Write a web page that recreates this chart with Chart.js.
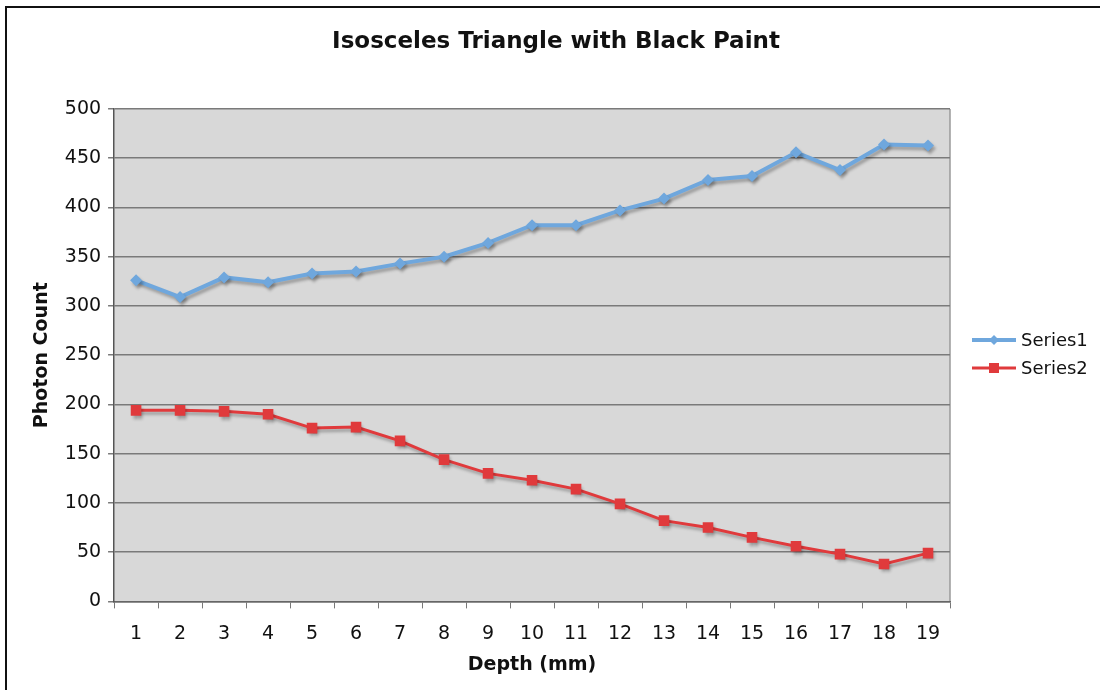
<!DOCTYPE html>
<html lang="en">
<head>
    <meta charset="UTF-8">
    <title>Isosceles Triangle with Black Paint</title>
    <script src="https://cdn.jsdelivr.net/npm/chart.js"></script>
    <style>
        body { margin: 0; background: #fff; }
        #wrap { position: relative; width: 1100px; height: 690px; }
        #frameTop { position: absolute; left: 5px; top: 6px; width: 1095px; height: 2px; background: #111; }
        #frameLeft { position: absolute; left: 5px; top: 6px; width: 2px; height: 684px; background: #111; }
    </style>
</head>
<body>
    <div id="wrap">
        <canvas id="photonChart" width="1100" height="690"></canvas>
        <div id="frameTop"></div>
        <div id="frameLeft"></div>
    </div>

    <script>
        // depth in mm
        const depths = ['1','2','3','4','5','6','7','8','9','10','11','12','13','14','15','16','17','18','19'];
        const series1 = [326, 309, 329, 324, 333, 335, 343, 350, 364, 382, 382, 397, 409, 428, 432, 456, 438, 464, 463];
        const series2 = [194, 194, 193, 190, 176, 177, 163, 144, 130, 123, 114, 99, 82, 75, 65, 56, 48, 38, 49];
        const yMin = 0, yMax = 500, yStep = 50;
        const chartTitle = 'Isosceles Triangle with Black Paint';

        const font = 'DejaVu Sans';

        // grey plot area + right edge
        const plotBg = {
            id: 'plotBg',
            beforeDraw(chart) {
                const { ctx, chartArea: a } = chart;
                ctx.save();
                ctx.fillStyle = '#d8d8d8';
                ctx.fillRect(a.left, a.top, a.right - a.left, a.bottom - a.top);
                ctx.strokeStyle = '#9a9a9a';
                ctx.lineWidth = 1.5;
                ctx.beginPath();
                ctx.moveTo(a.right, a.top);
                ctx.lineTo(a.right, a.bottom);
                ctx.stroke();
                ctx.restore();
            }
        };

        // soft drop shadow under the lines
        const lineShadow = {
            id: 'lineShadow',
            beforeDatasetsDraw(chart) {
                const ctx = chart.ctx;
                ctx.save();
                ctx.shadowColor = 'rgba(0,0,0,0.28)';
                ctx.shadowBlur = 3;
                ctx.shadowOffsetX = 2;
                ctx.shadowOffsetY = 3;
            },
            afterDatasetsDraw(chart) {
                chart.ctx.restore();
            }
        };

        // title sits a bit right of the plot centre in the original
        const topTitle = {
            id: 'topTitle',
            afterDraw(chart) {
                const ctx = chart.ctx;
                ctx.save();
                ctx.fillStyle = '#111';
                ctx.font = 'bold 23px ' + font;
                ctx.textAlign = 'center';
                ctx.textBaseline = 'middle';
                ctx.fillText(chartTitle, 556, 42);
                ctx.restore();
            }
        };

        // legend with line + marker, like the spreadsheet one
        const sideLegend = {
            id: 'sideLegend',
            afterDraw(chart) {
                const { ctx, chartArea: a } = chart;
                const x0 = a.right + 22;
                let y = 340;
                ctx.save();
                chart.data.datasets.forEach(ds => {
                    ctx.strokeStyle = ds.borderColor;
                    ctx.lineWidth = ds.borderWidth;
                    ctx.beginPath();
                    ctx.moveTo(x0, y);
                    ctx.lineTo(x0 + 44, y);
                    ctx.stroke();
                    ctx.fillStyle = ds.pointBackgroundColor;
                    ctx.beginPath();
                    if (ds.pointStyle === 'rect') {
                        ctx.rect(x0 + 22 - 5, y - 5, 10, 10);
                    } else {
                        ctx.moveTo(x0 + 22, y - 5);
                        ctx.lineTo(x0 + 27, y);
                        ctx.lineTo(x0 + 22, y + 5);
                        ctx.lineTo(x0 + 17, y);
                        ctx.closePath();
                    }
                    ctx.fill();
                    ctx.fillStyle = '#111';
                    ctx.font = '18px ' + font;
                    ctx.textBaseline = 'middle';
                    ctx.fillText(ds.label, x0 + 49, y + 1);
                    y += 28;
                });
                ctx.restore();
            }
        };

        const ctx = document.getElementById('photonChart').getContext('2d');
        new Chart(ctx, {
            type: 'line',
            data: {
                labels: depths,
                datasets: [{
                    label: 'Series1',
                    data: series1,
                    borderColor: '#6fa7dd',
                    backgroundColor: '#6fa7dd',
                    pointBackgroundColor: '#6fa7dd',
                    pointBorderWidth: 0,
                    borderWidth: 4,
                    pointStyle: 'rectRot',
                    pointRadius: 6,
                    tension: 0
                }, {
                    label: 'Series2',
                    data: series2,
                    borderColor: '#e03a3c',
                    backgroundColor: '#e03a3c',
                    pointBackgroundColor: '#e03a3c',
                    pointBorderWidth: 0,
                    borderWidth: 3,
                    pointStyle: 'rect',
                    pointRadius: 7.5,
                    tension: 0
                }]
            },
            options: {
                responsive: false,
                animation: false,
                layout: { padding: { left: 31, right: 150, top: 109, bottom: 14 } },
                plugins: {
                    legend: { display: false },
                    tooltip: { enabled: false },
                    title: { display: false }
                },
                scales: {
                    x: {
                        offset: true,
                        grid: {
                            offset: true,
                            drawOnChartArea: false,
                            drawTicks: true,
                            tickLength: 7,
                            color: '#777'
                        },
                        border: { color: '#666', width: 1.5 },
                        ticks: {
                            color: '#111',
                            font: { family: font, size: 19 },
                            padding: 14,
                            maxRotation: 0
                        },
                        title: {
                            display: true,
                            text: 'Depth (mm)',
                            color: '#111',
                            font: { family: font, size: 19, weight: 'bold' },
                            padding: { top: -6, bottom: 0 }
                        }
                    },
                    y: {
                        min: yMin,
                        max: yMax,
                        grid: {
                            color: '#7a7a7a',
                            lineWidth: 1.5,
                            tickLength: 6
                        },
                        border: { color: '#555', width: 1.5 },
                        ticks: {
                            stepSize: yStep,
                            color: '#111',
                            font: { family: font, size: 19 },
                            padding: 7
                        },
                        title: {
                            display: true,
                            text: 'Photon Count',
                            color: '#111',
                            font: { family: font, size: 19, weight: 'bold' },
                            padding: { top: 0, bottom: 4 }
                        }
                    }
                }
            },
            plugins: [plotBg, lineShadow, topTitle, sideLegend]
        });
    </script>
</body>
</html>
